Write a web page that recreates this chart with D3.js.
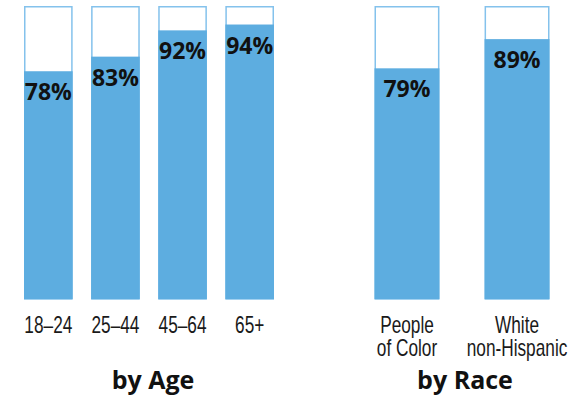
<!DOCTYPE html>
<html><head><meta charset="utf-8">
<script src="https://cdn.jsdelivr.net/npm/d3@7"></script>
<style>
body{margin:0;background:#fff;}
svg{display:block;}
</style></head>
<body>
<svg id="c" width="578" height="399"></svg>
<script>
const ageCategories = ["18–24", "25–44", "45–64", "65+"];
const ageValues = [78, 83, 92, 94];
const raceCategories = [["People", "of Color"], ["White", "non-Hispanic"]];
const raceValues = [79, 89];
const groupTitles = ["by Age", "by Race"];

const svg = d3.select("#c");
const fillColor = "#5dade0";
const strokeColor = "#84c2ec";
const y = d3.scaleLinear().domain([0, 100]).range([299, 7]);
const labelFont = "'Open Sans', sans-serif";
const tickFont = "'Liberation Sans', Arial, sans-serif";
const squeeze = 0.75;

function group(cats, vals, x0, x1, padInner, title, titleX) {
  const x = d3.scaleBand().domain(d3.range(cats.length)).range([x0, x1]).paddingInner(padInner).paddingOuter(0);
  const g = svg.append("g");
  const b = g.selectAll("g.bar").data(vals).join("g").attr("class", "bar");
  b.append("rect")
    .attr("x", (d, i) => x(i) + 0.75).attr("y", y(100) - 0.25)
    .attr("width", x.bandwidth() - 1.5).attr("height", y(0) - y(100) + 0.25)
    .attr("fill", "#fff").attr("stroke", strokeColor).attr("stroke-width", 1.5);
  b.append("rect")
    .attr("x", (d, i) => x(i)).attr("y", d => y(d))
    .attr("width", x.bandwidth()).attr("height", d => y(0) - y(d))
    .attr("fill", fillColor);
  b.append("text")
    .attr("x", (d, i) => x(i) + x.bandwidth() / 2).attr("y", d => y(d) + 29)
    .attr("text-anchor", "middle")
    .attr("font-family", labelFont).attr("font-weight", 700).attr("font-size", 23)
    .attr("fill", "#111").text(d => d + "%");
  const t = g.selectAll("text.tick").data(cats).join("text").attr("class", "tick")
    .attr("transform", (d, i) => `translate(${x(i) + x.bandwidth() / 2},333) scale(${squeeze},1)`)
    .attr("text-anchor", "middle")
    .attr("font-family", tickFont).attr("font-size", 23).attr("fill", "#1a1a1a");
  t.each(function(d) {
    const lines = Array.isArray(d) ? d : [d];
    d3.select(this).selectAll("tspan").data(lines).join("tspan")
      .attr("x", 0).attr("dy", (l, k) => k === 0 ? 0 : 23.5).text(l => l);
  });
  g.append("text").attr("x", titleX).attr("y", 389).attr("text-anchor", "middle")
    .attr("font-family", labelFont).attr("font-weight", 700).attr("font-size", 25)
    .attr("fill", "#111").text(title);
}

group(ageCategories, ageValues, 24, 274, 0.275, groupTitles[0], 153);
group(raceCategories, raceValues, 374.5, 549.5, 0.41, groupTitles[1], 465);
</script>
</body></html>
